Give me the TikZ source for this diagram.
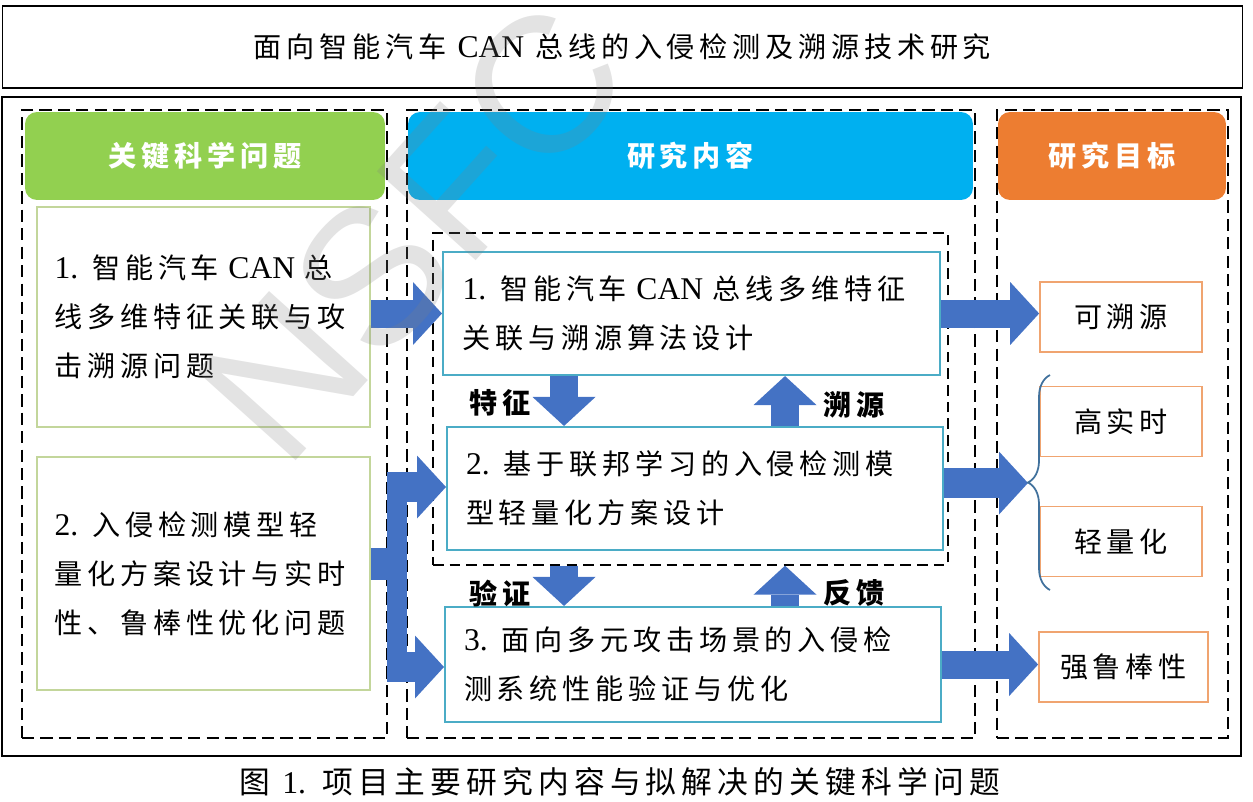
\documentclass[tikz,border=0pt]{standalone}
\usepackage{fontspec}
\setmainfont{Noto Sans CJK SC}[LetterSpace=17]
\newfontfamily\latfont{Liberation Serif}
\newfontfamily\wmfont{Liberation Sans}
\usetikzlibrary{arrows.meta,decorations.pathreplacing}
\definecolor{hdrgreen}{HTML}{92D050}
\definecolor{hdrblue}{HTML}{00B0F0}
\definecolor{hdrorange}{HTML}{ED7D31}
\definecolor{flowblue}{HTML}{4472C4}
\definecolor{probline}{HTML}{C3D69B}
\definecolor{contline}{HTML}{4BACC6}
\definecolor{goalline}{HTML}{F0A470}
\definecolor{bracecol}{HTML}{41719C}
\newcommand{\lat}[1]{{\fontsize{18}{27.9}\latfont #1}}

\begin{document}
\begin{tikzpicture}[x=0.02cm,y=-0.02cm,
  body/.style={font=\fontsize{16}{27.9}\selectfont},
  col/.style={draw,line width=1.1pt,dash pattern=on 7pt off 3.5pt,minimum height=12.56cm,inner sep=0pt},
  hdr/.style={rounded corners=0.24cm,minimum height=1.76cm,inner sep=0pt,text=white,font=\fontsize{16}{20}\selectfont\bfseries},
  prob/.style={body,draw=probline,line width=1pt,fill=white,minimum width=6.66cm,text width=5.96cm,align=left,inner xsep=0.35cm},
  cont/.style={body,draw=contline,line width=1.2pt,fill=white,text width=9.16cm,align=left,inner xsep=0.38cm},
  goal/.style={body,draw=goalline,line width=1pt,fill=white,minimum width=3.24cm,minimum height=1.4cm},
  lbl/.style={font=\fontsize{16}{20}\selectfont\bfseries},
  flow/.style={draw=flowblue,line width=0.56cm,-{Triangle[length=0.58cm,width=1.26cm,line width=0pt]}},
  wm/.style={font=\fontsize{110}{110}\wmfont,text=gray,opacity=0.22,rotate=48}]
\useasboundingbox (0,0) rectangle (1253,801);

\node[draw,line width=0.9pt,minimum width=24.8cm,minimum height=1.64cm,body] (title) at (622.5,47)
  {面向智能汽车 \lat{CAN} 总线的入侵检测及溯源技术研究};
\node[draw,line width=0.9pt,minimum width=24.78cm,minimum height=13.18cm] (frame) at (621.5,426.5) {};

% three columns
\node[col,minimum width=7.3cm] (colL) at (204.5,424) {};
\node[col,minimum width=11.36cm] (colM) at (691,424) {};
\node[col,minimum width=4.62cm] (colR) at (1112.5,424) {};
\node[draw,line width=0.8pt,dash pattern=on 6pt off 3.5pt,minimum width=10.3cm,minimum height=6.64cm] (inner) at (690.5,399) {};

\node[hdr,fill=hdrgreen,minimum width=7.2cm] (hdrL) at (205,156) {关键科学问题};
\node[hdr,fill=hdrblue,minimum width=11.3cm] (hdrM) at (690.5,156) {研究内容};
\node[hdr,fill=hdrorange,minimum width=4.56cm] (hdrR) at (1112,156) {研究目标};

\node[prob,minimum height=4.4cm] (probA) at (203.5,317)
  {\lat{1.} 智能汽车 \lat{CAN} 总\\线多维特征关联与攻\\击溯源问题};
\node[prob,minimum height=4.66cm] (probB) at (203.5,573.5)
  {\lat{2.} 入侵检测模型轻\\量化方案设计与实时\\性、鲁棒性优化问题};

\node[cont,minimum width=9.94cm,minimum height=2.46cm] (contA) at (691.5,313.5)
  {\lat{1.} 智能汽车 \lat{CAN} 总线多维特征\\关联与溯源算法设计};
\node[cont,minimum width=9.88cm,minimum height=2.46cm] (contB) at (695,488.5)
  {\lat{2.} 基于联邦学习的入侵检测模\\型轻量化方案设计};
\node[cont,minimum width=9.88cm,minimum height=2.3cm] (contC) at (693,664.5)
  {\lat{3.} 面向多元攻击场景的入侵检\\测系统性能验证与优化};

\node[goal] (goalA) at (1121,317) {可溯源};
\node[goal] (goalB) at (1121,421.5) {高实时};
\node[goal] (goalC) at (1121,541.5) {轻量化};
\node[goal,minimum width=3.38cm] (goalD) at (1123.5,667) {强鲁棒性};

\node[lbl] (lblF) at (500,403) {特征};
\node[lbl] (lblS) at (854,405) {溯源};
\node[lbl] (lblV) at (500,593) {验证};
\node[lbl] (lblR) at (854,593) {反馈};

% block arrows
\coordinate (fx) at (564,0);
\coordinate (sx) at (785,0);
\draw[flow] (probA.east |- contA.west) -- (contA.west);
\draw[flow] (contA.east) -- (contA.east -| goalA.west);
\draw[flow] (contC.east) -- (contC.east -| goalD.west);
\draw[flow] (contA.south -| fx) -- (contB.north -| fx);
\draw[flow] (contB.north -| sx) -- (contA.south -| sx);
\draw[flow] (inner.south -| fx) -- (contC.north -| fx);
\draw[flow] (contC.north -| sx) -- (inner.south -| sx);

\coordinate (fork) at (397,564);
\coordinate (forkT) at (397,472);
\coordinate (forkB) at (397,682);
\coordinate (brT) at (387,487);
\coordinate (brB) at (387,667);
\draw[flowblue,line width=0.64cm] (probB.east |- fork) -- (fork);
\draw[flowblue,line width=0.4cm] (forkT) -- (forkB);
\draw[flow,line width=0.6cm] (brT) -- (brT -| contB.west);
\draw[flow,line width=0.6cm] (brB) -- (brB -| contC.west);

% brace towards the goals
\coordinate (brk) at (1028,483);
\coordinate (brkT) at (1050,375);
\coordinate (brkB) at (1050,590);
\draw[flow,line width=0.6cm] (contB.east |- brk) -- (brk);
\draw[bracecol,line width=1pt,decorate,decoration={brace,amplitude=0.44cm,aspect=0.5}] (brkB) -- (brkT);

\node[font=\fontsize{17.5}{20}\selectfont] (caption) at (620,782) {图 \lat{1.} 项目主要研究内容与拟解决的关键科学问题};

\node[wm] (mark) at (412,232) {NSFC};
\end{tikzpicture}
\end{document}
